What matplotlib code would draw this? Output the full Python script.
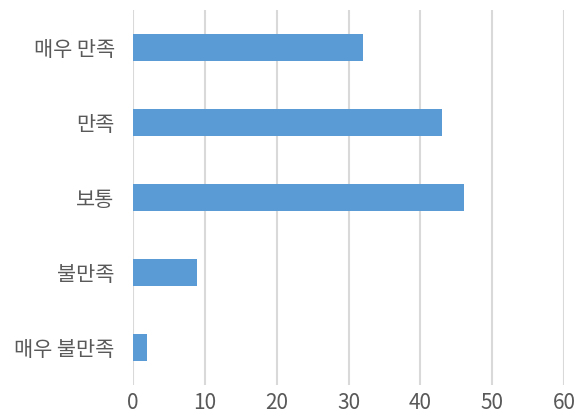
import matplotlib
matplotlib.use("Agg")
import matplotlib.pyplot as plt

categories = ["매우 만족", "만족", "보통", "불만족", "매우 불만족"]
values = [32, 43, 46, 9, 2]
xticks = [0, 10, 20, 30, 40, 50, 60]

plt.rcParams['font.family'] = ['Noto Sans CJK KR', 'DejaVu Sans']

fig = plt.figure(figsize=(5.84, 4.2), dpi=100)
ax = fig.add_axes([0.2272, 0.0833, 0.9663 - 0.2272, 0.976 - 0.0833])

n = len(categories)
pos = list(range(n))[::-1]
ax.barh(pos, values, height=0.355, color="#5B9BD5", zorder=3)

ax.set_xlim(0, 60)
ax.set_ylim(-0.5, n - 0.5)
ax.set_xticks(xticks)
ax.set_xticklabels([str(t) for t in xticks])
ax.set_yticks(pos)
ax.set_yticklabels(categories)

for s in ax.spines.values():
    s.set_visible(False)
ax.grid(axis="x", color="#D9D9D9", linewidth=1.5, zorder=0)
ax.grid(axis="y", visible=False)
ax.tick_params(axis="both", length=0, colors="#595959")
ax.tick_params(axis="y", pad=13, labelsize=15)
ax.tick_params(axis="x", pad=5, labelsize=15)

fig.savefig("out.png", dpi=100)
